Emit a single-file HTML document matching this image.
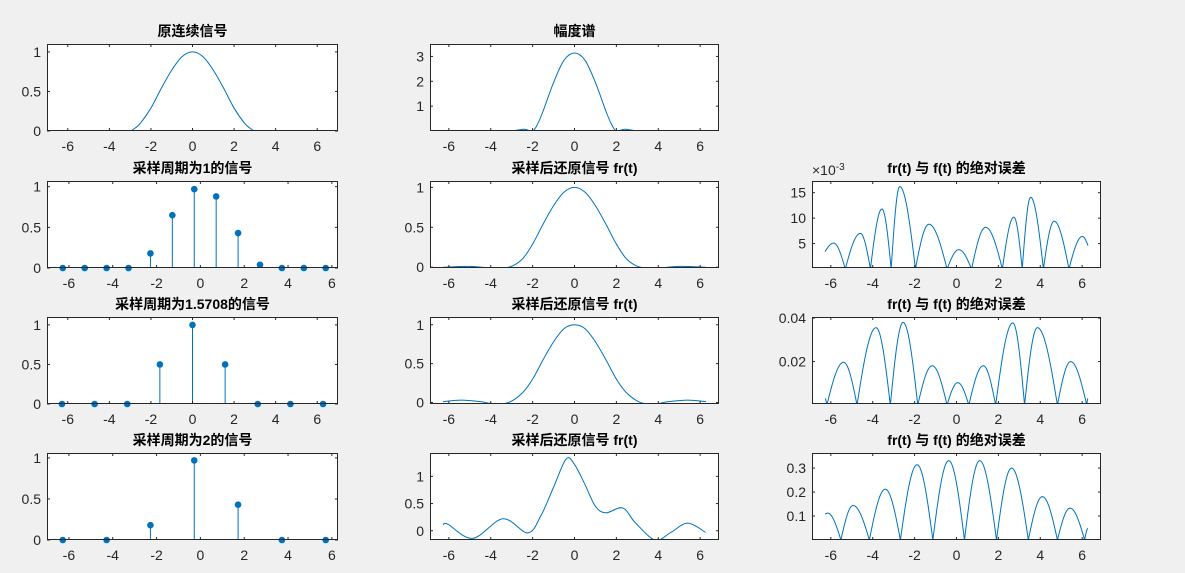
<!DOCTYPE html>
<html><head><meta charset="utf-8">
<style>
html,body{margin:0;padding:0;background:#f0f0f0;}
svg{display:block;font-family:"Liberation Sans","Noto Sans CJK SC",sans-serif;}
</style></head>
<body>
<svg id="fig" width="1185" height="573" viewBox="0 0 1185 573"></svg>
<script>
// ---- data ----
const xTicks = [-6,-4,-2,0,2,4,6];
// original continuous signal
const origT = [-6.28,-4.5,-3.14,-2.8,-2.5,-2,-1.5,-1,-0.5,0,0.5,1,1.5,2,2.5,2.8,3.14,4.5,6.28];
const origY = [0,0,0,0.03,0.1,0.29,0.54,0.77,0.94,1,0.94,0.77,0.54,0.29,0.1,0.03,0,0,0];
// magnitude spectrum
const specT = [-6.28,-4,-3,-2.4,-2,-1.75,-1.5,-1,-0.5,0,0.5,1,1.5,1.75,2,2.4,3,4,6.28];
const specY = [0,0.01,0.01,0.07,0,0.3,0.8,1.95,2.85,3.14,2.85,1.95,0.8,0.3,0,0.07,0.01,0.01,0];
// stems
const s1T = [-6.28,-5.28,-4.28,-3.28,-2.28,-1.28,-0.28,0.72,1.72,2.72,3.72,4.72,5.72];
const s1Y = [0,0,0,0,0.18,0.65,0.97,0.88,0.43,0.04,0,0,0];
const s2T = [-6.28,-4.71,-3.14,-1.57,0,1.57,3.14,4.71,6.28];
const s2Y = [0,0,0,0.5,1,0.5,0,0,0];
const s3T = [-6.28,-4.28,-2.28,-0.28,1.72,3.72,5.72];
const s3Y = [0,0,0.18,0.97,0.43,0,0];
// reconstructions
const r1T = [-6.28,-5,-4,-3.14,-2.5,-2,-1.5,-1,-0.5,0,0.5,1,1.5,2,2.5,3.14,4,5,6.28];
const r1Y = [0,0.01,-0.01,0,0.1,0.29,0.54,0.77,0.94,1,0.94,0.77,0.54,0.29,0.1,0,-0.01,0.01,0];
const r2T = [-6.28,-5.4,-4.5,-3.8,-3.14,-2.5,-2,-1.5,-1,-0.5,0,0.5,1,1.5,2,2.5,3.14,3.8,4.5,5.4,6.28];
const r2Y = [0.01,0.03,0.01,-0.02,0,0.12,0.3,0.55,0.78,0.95,1,0.95,0.78,0.55,0.3,0.12,0,-0.02,0.01,0.03,0.01];
const r3T = [-6.28,-6.05,-4.86,-3.42,-2.23,-1.6,-1,-0.4,0,0.5,1.0,1.5,2.3,2.9,3.85,4.6,5.41,6.26];
const r3Y = [0.11,0.12,-0.14,0.22,-0.04,0.28,0.8,1.32,1.22,0.85,0.45,0.33,0.42,0.15,-0.17,-0.03,0.14,-0.03];
// absolute errors (key points: ends, zeros, peaks)
const e1T = [-6.28,-5.87,-5.31,-4.59,-4.11,-3.56,-3.12,-2.71,-1.96,-1.32,-0.45,0.11,0.72,1.39,2.19,2.74,3.14,3.54,4.15,4.66,5.37,6.01,6.28];
const e1Y = [3.4,5.1,0,7.0,0,11.8,0,16.2,0,8.8,0,3.8,0,8.2,0,10.2,0,14.1,0,9.4,0,6.4,4.6];
const e2T = [-6.28,-6.19,-5.39,-4.75,-3.84,-3.16,-2.55,-1.85,-1.16,-0.45,0.06,0.59,1.28,1.87,2.69,3.25,3.86,4.82,5.45,6.22,6.28];
const e2Y = [0.003,0,0.0197,0,0.0356,0,0.038,0,0.0181,0,0.0103,0,0.0181,0,0.0378,0,0.0356,0,0.02,0,0.003];
const e3T = [-6.28,-6.15,-5.52,-4.94,-4.16,-3.4,-2.68,-1.88,-1.13,-0.37,0.38,1.11,1.91,2.63,3.43,4.1,4.82,5.42,6.12,6.28];
const e3Y = [0.108,0.112,0,0.144,0,0.212,0,0.314,0,0.331,0,0.331,0,0.30,0,0.181,0,0.133,0,0.048];

const C = '#0072BD', INK = '#262626';
const cols = [[47,338],[430,719],[812,1101]];
const rows = [[44,131],[181,268],[317,404],[453,540]];
const plots = [
 {n:'original-signal',title:'原连续信号',c:0,r:0,xl:[-7,7],yl:[0,1.1],yt:[0,0.5,1],type:'line',t:origT,y:origY},
 {n:'magnitude-spectrum',title:'幅度谱',c:1,r:0,xl:[-6.9,6.9],yl:[0,3.5],yt:[1,2,3],type:'line',t:specT,y:specY},
 {n:'sampled-t1',title:'采样周期为1的信号',c:0,r:1,xl:[-7,6.28],yl:[0,1.07],yt:[0,0.5,1],type:'stem',t:s1T,y:s1Y},
 {n:'reconstructed-t1',title:'采样后还原信号 fr(t)',c:1,r:1,xl:[-6.9,6.9],yl:[-0.01,1.08],yt:[0,0.5,1],type:'line',t:r1T,y:r1Y},
 {n:'error-t1',title:'fr(t) 与 f(t) 的绝对误差',c:2,r:1,xl:[-6.9,6.9],yl:[0.2,17.3],yt:[5,10,15],type:'err',t:e1T,y:e1Y,exp:true},
 {n:'sampled-t15708',title:'采样周期为1.5708的信号',c:0,r:2,xl:[-7,7],yl:[0,1.1],yt:[0,0.5,1],type:'stem',t:s2T,y:s2Y},
 {n:'reconstructed-t15708',title:'采样后还原信号 fr(t)',c:1,r:2,xl:[-6.9,6.9],yl:[-0.02,1.1],yt:[0,0.5,1],type:'line',t:r2T,y:r2Y},
 {n:'error-t15708',title:'fr(t) 与 f(t) 的绝对误差',c:2,r:2,xl:[-6.9,6.9],yl:[0.0005,0.0405],yt:[0.02,0.04],type:'err',t:e2T,y:e2Y},
 {n:'sampled-t2',title:'采样周期为2的信号',c:0,r:3,xl:[-7,6.28],yl:[0,1.06],yt:[0,0.5,1],type:'stem',t:s3T,y:s3Y},
 {n:'reconstructed-t2',title:'采样后还原信号 fr(t)',c:1,r:3,xl:[-6.9,6.9],yl:[-0.17,1.43],yt:[0,0.5,1],type:'line',t:r3T,y:r3Y},
 {n:'error-t2',title:'fr(t) 与 f(t) 的绝对误差',c:2,r:3,xl:[-6.9,6.9],yl:[0,0.363],yt:[0.1,0.2,0.3],type:'err',t:e3T,y:e3Y}
];

const svg = document.getElementById('fig');
const NS = 'http://www.w3.org/2000/svg';
function mk(tag, attrs, parent){const e=document.createElementNS(NS,tag);for(const k in attrs)e.setAttribute(k,attrs[k]);(parent||svg).appendChild(e);return e;}

plots.forEach(p=>{
  const [x0,x1]=cols[p.c], [y0,y1]=rows[p.r];
  const sx=v=>x0+(v-p.xl[0])/(p.xl[1]-p.xl[0])*(x1-x0);
  const sy=v=>y1-(v-p.yl[0])/(p.yl[1]-p.yl[0])*(y1-y0);
  const g=mk('g',{});
  
  
  const bg=mk('rect',{x:x0,y:y0,width:x1-x0,height:y1-y0,fill:'#fff'},g);
  
  
  const clipId='clip'+p.c+p.r;
  const cp=mk('clipPath',{id:clipId},g); mk('rect',{x:x0,y:y0,width:x1-x0,height:y1-y0},cp);
  const data=mk('g',{'clip-path':'url(#'+clipId+')'},g);
  
  
  if(p.type==='line'){
    const P=p.t.map((t,i)=>[sx(t),sy(p.y[i])]);
    let d='M'+P[0][0].toFixed(2)+','+P[0][1].toFixed(2);
    for(let i=0;i<P.length-1;i++){
      const a=P[Math.max(0,i-1)],b=P[i],c=P[i+1],e=P[Math.min(P.length-1,i+2)];
      const c1=[b[0]+(c[0]-a[0])/6,b[1]+(c[1]-a[1])/6], c2=[c[0]-(e[0]-b[0])/6,c[1]-(e[1]-b[1])/6];
      d+=' C'+c1.map(v=>v.toFixed(2))+' '+c2.map(v=>v.toFixed(2))+' '+c[0].toFixed(2)+','+c[1].toFixed(2);
    }
    const l=mk('path',{d:d,fill:'none',stroke:C,'stroke-width':1},data);
    
    
  } else if(p.type==='err'){
    let d='';
    for(let i=0;i<p.t.length-1;i++){
      const ta=p.t[i],tb=p.t[i+1],a=p.y[i],b=p.y[i+1];
      for(let k=0;k<=20;k++){
        const u=k/20,t=ta+(tb-ta)*u;
        let v;
        if(b===0) v=a*Math.cos(Math.PI/2*u);
        else if(a===0) v=b*Math.sin(Math.PI/2*u);
        else if(b>a) v=a+(b-a)*Math.sin(Math.PI/2*u);
        else v=b+(a-b)*Math.cos(Math.PI/2*u);
        d+=(d===''?'M':'L')+sx(t).toFixed(2)+','+sy(v).toFixed(2);
      }
    }
    const l=mk('path',{d:d,fill:'none',stroke:C,'stroke-width':1},data);
    
    
  } else {
    p.t.forEach((t,i)=>{
      const s=mk('line',{x1:sx(t),x2:sx(t),y1:sy(0),y2:sy(p.y[i]),stroke:C,'stroke-width':1},data);
      
      
    });
  }
  if(p.type==='stem'){
    p.t.forEach((t,i)=>{
      const m=mk('circle',{cx:sx(t),cy:sy(p.y[i]),r:3.3,fill:C},g);
      
      
    });
  }
  mk('rect',{x:x0+0.5,y:y0+0.5,width:x1-x0-1,height:y1-y0-1,fill:'none',stroke:INK,'stroke-width':1},g);
  xTicks.forEach(v=>{
    const x=sx(v); if(x<x0||x>x1) return;
    mk('line',{x1:x,x2:x,y1:y1,y2:y1-3,stroke:INK,'stroke-width':1},g);
    mk('line',{x1:x,x2:x,y1:y0,y2:y0+3,stroke:INK,'stroke-width':1},g);
    const tx=mk('text',{x:x,y:y1+20,'text-anchor':'middle','font-size':14,fill:INK},g);
    tx.textContent=v<0?'-'+Math.abs(v):String(v);
    
    
  });
  p.yt.forEach(v=>{
    const y=sy(v);
    mk('line',{x1:x0,x2:x0+3,y1:y,y2:y,stroke:INK,'stroke-width':1},g);
    mk('line',{x1:x1,x2:x1-3,y1:y,y2:y,stroke:INK,'stroke-width':1},g);
    const ty=mk('text',{x:x0-6,y:y+5,'text-anchor':'end','font-size':14,fill:INK},g);
    ty.textContent=String(v);
    
    
  });
  if(p.exp){
    const ex=mk('text',{x:x0,y:y0-6,'font-size':14,fill:INK},g);
    ex.innerHTML='×10<tspan dy="-5" font-size="10">-3</tspan>';
    
    
  }
  const ti=mk('text',{x:(x0+x1)/2,y:y0-8,'text-anchor':'middle','font-size':14,'font-weight':'bold',fill:'#000'},g);
  ti.textContent=p.title;
  
  
});
</script>
</body></html>
